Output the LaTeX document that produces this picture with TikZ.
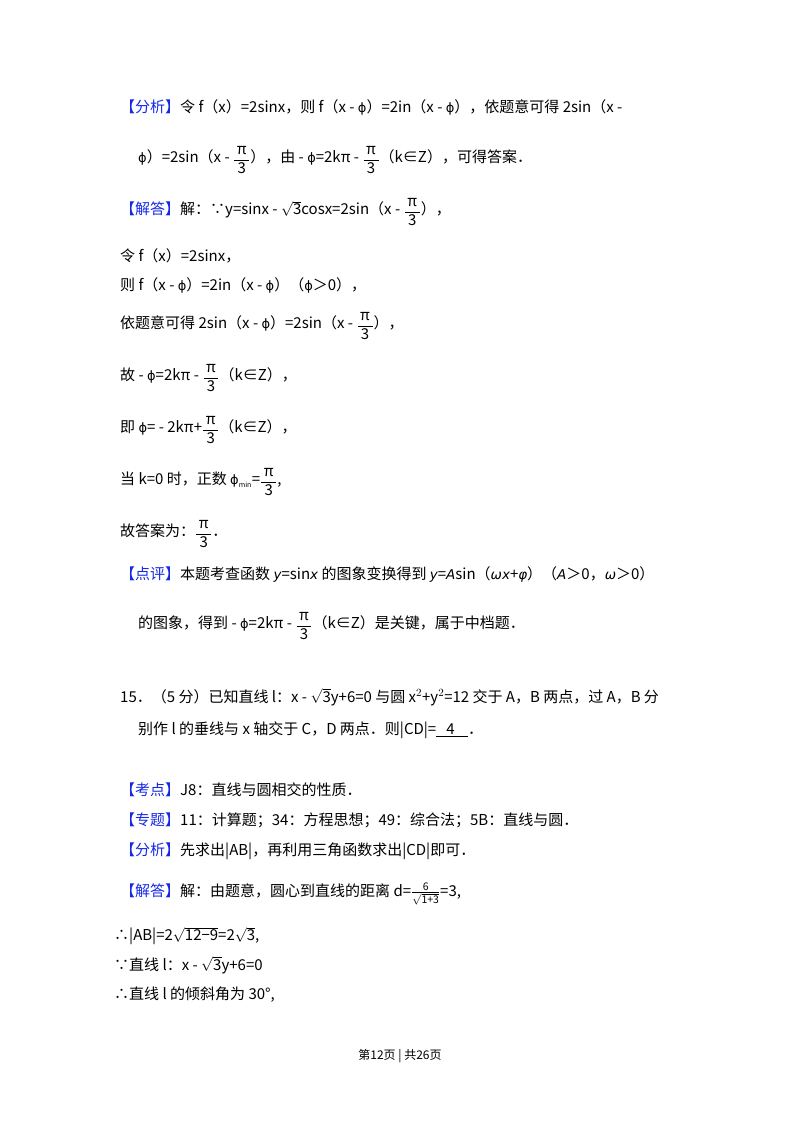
\documentclass[tikz,border=0pt]{standalone}
\usepackage{amsmath}
\usepackage{fontspec}
\setmainfont{Noto Sans CJK SC}
\newfontfamily\dvs{DejaVu Sans}
\definecolor{kb}{RGB}{20,40,230}
\newcommand{\kh}[1]{\textcolor{kb}{【#1】}}
\newcommand{\myit}[1]{{\dvs\itshape\fontsize{13.5}{16}\selectfont #1}}
\newcommand{\ph}{{\dvs\fontsize{13}{16}\selectfont ϕ}}
\newcommand{\pt}{\raisebox{-1pt}{$\displaystyle\frac{\text{\,π\,}}{\text{\,3\,}}$}}
\begin{document}
\begin{tikzpicture}[x=1pt,y=-1pt,every node/.style={font=\fontsize{15}{18}\selectfont}]
\tikzset{txt/.style={anchor=west,inner sep=0pt}}
\useasboundingbox (0,0) rectangle (800,1132);
\node[txt] (l1) at (120,107) {\kh{分析}令 f（x）=2sinx，则 f（x - \ph）=2in（x - \ph），依题意可得 2sin（x -};
\node[txt] (l2) at (138,160) {\ph）=2sin（x - \pt），由 - \ph=2kπ - \pt（k∈Z），可得答案．};
\node[txt] (l3) at (120,212) {\kh{解答}解：∵y=sinx - $\sqrt{\text{3}}$cosx=2sin（x - \pt），};
\node[txt] (l4) at (120,256) {令 f（x）=2sinx，};
\node[txt] (l5) at (120,285) {则 f（x - \ph）=2in（x - \ph）（\ph＞0），};
\node[txt] (l6) at (120,326) {依题意可得 2sin（x - \ph）=2sin（x - \pt），};
\node[txt] (l7) at (120,378) {故 - \ph=2kπ - \pt（k∈Z），};
\node[txt] (l8) at (120,430) {即 \ph= - 2kπ+\pt（k∈Z），};
\node[txt] (l9) at (120,482) {当 k=0 时，正数 \ph\textsubscript{\fontsize{7}{8}\selectfont min}=\pt,};
\node[txt] (l10) at (120,534) {故答案为：\pt．};
\node[txt] (l11) at (120,574) {\kh{点评}本题考查函数 \myit{y}=sin\myit{x} 的图象变换得到 \myit{y}=\myit{A}sin（\myit{ωx}+\myit{φ}）（\myit{A}＞0，\myit{ω}＞0）};
\node[txt] (l12) at (138,626) {的图象，得到 - \ph=2kπ - \pt（k∈Z）是关键，属于中档题．};
\node[txt] (l13) at (120,697) {15．（5 分）已知直线 l：x - $\sqrt{\text{3}}$y+6=0 与圆 x$^2$+y$^2$=12 交于 A，B 两点，过 A，B 分};
\node[txt] (l14) at (138,730) {别作 l 的垂线与 x 轴交于 C，D 两点．则|CD|=\underline{\ \ \ 4\ \ \ \ }．};
\node[txt] (l15) at (120,790) {\kh{考点}J8：直线与圆相交的性质．};
\node[txt] (l16) at (120,820) {\kh{专题}11：计算题；34：方程思想；49：综合法；5B：直线与圆．};
\node[txt] (l17) at (120,851) {\kh{分析}先求出|AB|，再利用三角函数求出|CD|即可．};
\node[txt] (l18) at (120,894) {\kh{解答}解：由题意，圆心到直线的距离 d=$\frac{\text{6}}{\sqrt{\text{1+3}}}$=3,};
\node[txt] (l19) at (114,936) {∴|AB|=2$\sqrt{\text{12−9}}$=2$\sqrt{\text{3}}$,};
\node[txt] (l20) at (114,965) {∵直线 l：x - $\sqrt{\text{3}}$y+6=0};
\node[txt] (l21) at (114,995) {∴直线 l 的倾斜角为 30°,};
\node[font=\fontsize{12}{14}\selectfont] (ft) at (400,1056) {第12页 | 共26页};
\end{tikzpicture}
\end{document}
